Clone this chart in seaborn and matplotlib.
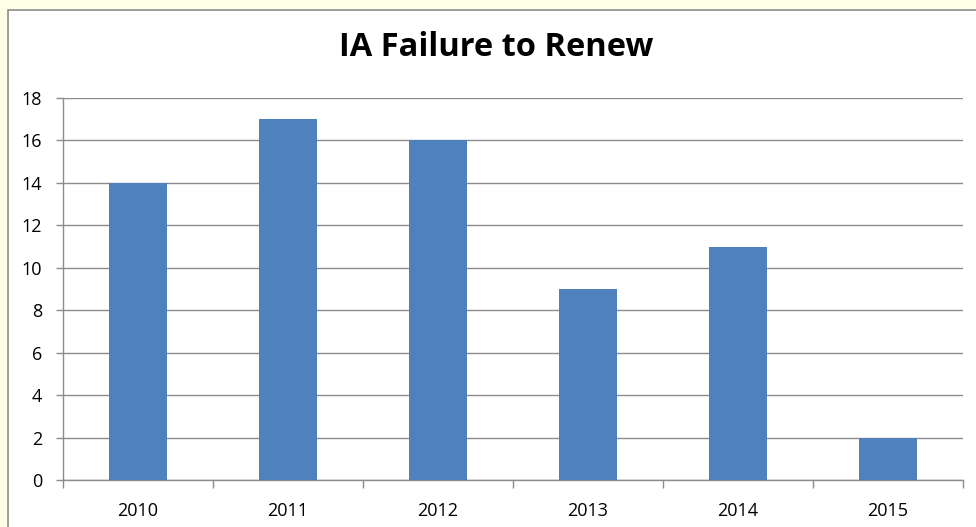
import matplotlib
matplotlib.use('Agg')
import matplotlib.pyplot as plt
import seaborn as sns
import pandas as pd
from matplotlib.patches import Rectangle

# data
years = ['2010', '2011', '2012', '2013', '2014', '2015']
counts = [14, 17, 16, 9, 11, 2]

df = pd.DataFrame({'year': years, 'count': counts})

sns.set_style('white')
plt.rcParams['font.family'] = ['Open Sans', 'DejaVu Sans']
plt.rcParams['text.color'] = 'black'
plt.rcParams['xtick.color'] = 'black'
plt.rcParams['ytick.color'] = 'black'

fig = plt.figure(figsize=(9.76, 5.27), dpi=100)
fig.patch.set_facecolor('#FFFFE6')
# white chart area with gray border
fig.patches.append(Rectangle((8 / 976, -0.05), 1.0, 1 - 10 / 527 + 0.05,
                             transform=fig.transFigure, facecolor='white',
                             edgecolor='#8C8C8C', linewidth=1.2, zorder=-1))

ax = fig.add_axes([63 / 976, 1 - 480 / 527, 900 / 976, 382 / 527])
ax.set_facecolor('none')
sns.barplot(data=df, x='year', y='count', color='#4F81BD', width=0.39,
            saturation=1, linewidth=0, ax=ax, zorder=3)

ax.set_ylim(0, 18)
ax.set_xlim(-0.5, 5.5)
ax.set_yticks(range(0, 19, 2))
ax.yaxis.grid(True, color='#8C8C8C', linewidth=1)
ax.set_axisbelow(True)
ax.set_xlabel('')
ax.set_ylabel('')

for s in ['top', 'right']:
    ax.spines[s].set_visible(False)
for s in ['left', 'bottom']:
    ax.spines[s].set_color('#8C8C8C')
    ax.spines[s].set_linewidth(1)

ax.tick_params(axis='y', left=True, length=5, width=1, color='#8C8C8C',
               labelcolor='black', labelsize=13, pad=10)
ax.tick_params(axis='x', which='major', bottom=True, length=0,
               labelcolor='black', labelsize=13, pad=16)
ax.set_xticks([i - 0.5 for i in range(7)], minor=True)
ax.tick_params(axis='x', which='minor', bottom=True, length=6,
               color='#8C8C8C', width=1)

fig.text(496 / 976, 1 - 48 / 527, 'IA Failure to Renew', color='black',
         ha='center', va='center', fontsize=23.5, fontweight='bold')

fig.savefig('out.png', dpi=100)
